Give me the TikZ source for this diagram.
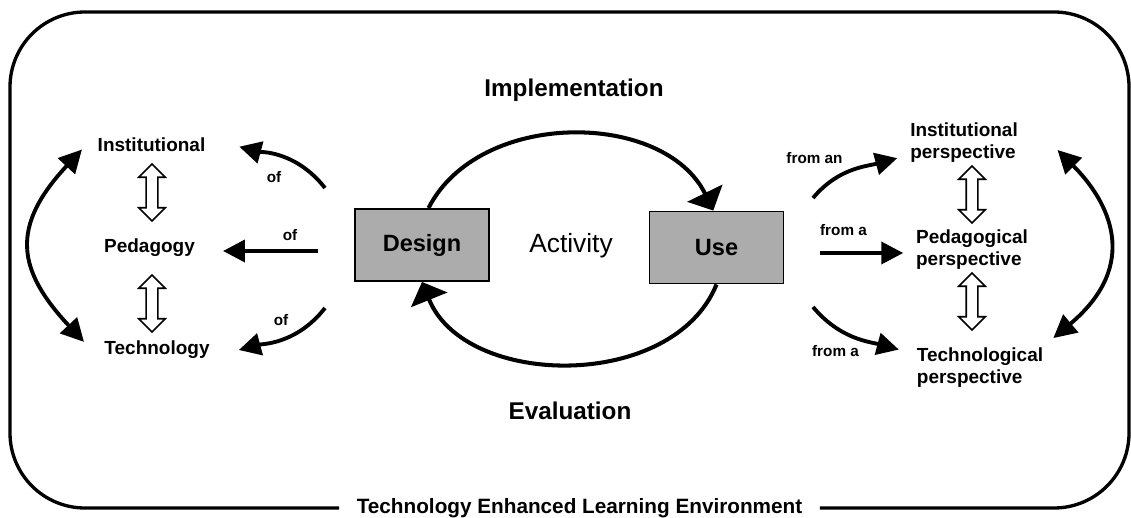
\documentclass[tikz,border=0pt]{standalone}
\usepackage{fontspec}
\setmainfont{Liberation Sans}
\usetikzlibrary{arrows.meta, shapes.arrows}
\definecolor{boxgray}{RGB}{172,172,172}
\tikzset{
  envframe/.style={line width=1.9pt, rounded corners=1.5cm},
  envlabel/.style={font=\fontsize{11.8}{14}\selectfont\bfseries, inner xsep=9.9pt},
  stage/.style={draw, fill=boxgray, line width=1.1pt, minimum width=2.68cm, minimum height=1.44cm, font=\fontsize{13.4}{16}\selectfont\bfseries},
  phase/.style={font=\fontsize{13.8}{16}\selectfont\bfseries},
  aspect/.style={font=\fontsize{10.8}{12.5}\selectfont\bfseries, align=left},
  prep/.style={font=\fontsize{8.7}{10}\selectfont\bfseries},
  arr/.style={line width=2.2pt, -{Triangle[length=12.5pt,width=12.5pt]}},
  bigarr/.style={line width=2.3pt, -{Triangle[length=11pt,width=22pt]}},
  bothway/.style={line width=2.2pt, {Triangle[length=13pt,width=13pt]}-{Triangle[length=13pt,width=13pt]}},
  twoway/.style={double arrow, draw, fill=white, line width=0.9pt, rotate=90, minimum height=1.14cm, inner sep=2.85pt, double arrow head extend=4.25pt},
}

\begin{document}
\begin{tikzpicture}[x=0.02cm, y=0.02cm]
  \useasboundingbox (0,0) rectangle (1131,517);

  % environment frame
  \node[envlabel] (tele) at (579.5,9) {Technology Enhanced Learning Environment};
  \draw[envframe] (tele.west) -- (10,9) -- (10,505) -- (1129,505) -- (1129,9) -- (tele.east);

  % activity cycle
  \node[stage] (design) at (422,272) {Design};
  \node[stage] (use) at (716.5,269.5) {Use};
  \node[font=\fontsize{15}{18}\selectfont] (act) at (571,271) {Activity};
  \node[phase] (impl) at (574,427) {Implementation};
  \node[phase] (eval) at (570,106) {Evaluation};
  \draw[bigarr] (design.80) to[out=63,in=116] (use.95);
  \draw[bigarr] (use.south) to[out=-112,in=-68] (design.south);

  % left side
  \node[aspect] (inst) at (151.5,372.5) {Institutional};
  \node[aspect] (ped) at (149.5,269) {Pedagogy};
  \node[aspect] (tech) at (157,167) {Technology};
  \node[twoway] (ip) at (152,324.5) {};
  \node[twoway] (pt) at (152,213.5) {};
  \draw[bothway, looseness=1.4, shorten <=11.9pt, shorten >=8pt] (tech.187) to[out=133,in=-133] (inst.175);

  \coordinate (dt) at (325,329);
  \coordinate (dm) at (318,266);
  \coordinate (db) at (325,209);
  \draw[arr, shorten >=16.4pt] (dt) to[out=128,in=-15] (inst.5);
  \draw[arr, shorten >=12.5pt] (dm) -- (dm -| ped.east);
  \draw[arr, shorten >=13.6pt] (db) to[out=-128,in=15] (tech.-6);
  \node[prep] (ofa) at (274,340) {of};
  \node[prep] (ofb) at (290,282) {of};
  \node[prep] (ofc) at (281,197) {of};

  % right side
  \node[aspect] (rinst) at (964,374.5) {Institutional\\perspective};
  \node[aspect] (rped) at (972,267.5) {Pedagogical\\perspective};
  \node[aspect] (rtech) at (980,149.5) {Technological\\perspective};
  \node[twoway] (rip) at (972,322.5) {};
  \node[twoway] (rpt) at (972,215.5) {};
  \draw[bothway, looseness=1.36, shorten <=3pt, shorten >=27pt] (rtech.north east) to[out=40,in=-45] (rinst.north east);

  \coordinate (ut) at (813,319);
  \coordinate (um) at (820,264);
  \coordinate (ub) at (813,210);
  \draw[arr, shorten >=4pt] (ut) to[out=50,in=195] (rinst.193);
  \draw[arr, shorten >=3.8pt] (um) -- (um -| rped.west);
  \draw[arr, shorten >=7pt] (ub) to[out=-50,in=165] (rtech.168);
  \node[prep] (froma) at (814.5,359) {from an};
  \node[prep] (fromb) at (843.5,287) {from a};
  \node[prep] (fromc) at (835.5,165.5) {from a};
\end{tikzpicture}
\end{document}
